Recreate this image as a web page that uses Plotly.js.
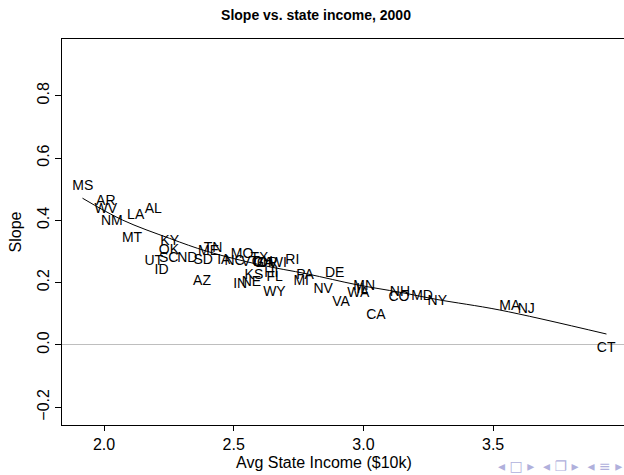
<!DOCTYPE html>
<html>
<head>
<meta charset="utf-8">
<script src="https://cdn.plot.ly/plotly-3.0.1.min.js"></script>
<style>
html, body { margin:0; padding:0; overflow:hidden; background:#fff; }
#chart { width:632px; height:475px; }
</style>
</head>
<body>
<div id="chart"></div>
<script>
// State labels and their (avg income in $10k, slope) values
const states = ["MS","AR","WV","NM","LA","AL","MT","KY","OK","UT","SC","ND","ID","SD","ME","TN","AZ","IA","NC","MO","VT","TX","OH","GA","OR","WI","RI","KS","HI","FL","IN","NE","WY","PA","MI","DE","NV","VA","WA","MN","IL","CA","NH","CO","MD","NY","MA","NJ","CT"];
const income = [1.918,2.007,2.007,2.030,2.122,2.190,2.108,2.253,2.250,2.192,2.249,2.321,2.222,2.382,2.403,2.420,2.378,2.462,2.503,2.532,2.564,2.599,2.610,2.614,2.630,2.672,2.726,2.578,2.645,2.658,2.525,2.568,2.657,2.775,2.760,2.889,2.845,2.914,2.980,3.003,2.995,3.048,3.141,3.137,3.226,3.285,3.564,3.628,3.936];
const slope = [0.510,0.459,0.435,0.395,0.415,0.436,0.343,0.333,0.304,0.269,0.278,0.278,0.238,0.270,0.300,0.311,0.205,0.270,0.268,0.291,0.266,0.276,0.266,0.260,0.263,0.262,0.270,0.222,0.228,0.217,0.193,0.202,0.167,0.222,0.203,0.228,0.177,0.135,0.165,0.186,0.177,0.093,0.167,0.152,0.155,0.139,0.122,0.113,-0.013];
// Smooth fitted curve
const fitX = [1.917, 2.071, 2.253, 2.399, 2.603, 2.783, 2.976, 3.141, 3.283, 3.526, 3.937];
const fitY = [0.471, 0.401, 0.342, 0.300, 0.257, 0.228, 0.193, 0.169, 0.146, 0.112, 0.035];
const xTicks = [2.0, 2.5, 3.0, 3.5];
const xTickText = ["2.0","2.5","3.0","3.5"];
const yTicks = [-0.2, 0.0, 0.2, 0.4, 0.6, 0.8];
const yTickText = ["\u22120.2","0.0","0.2","0.4","0.6","0.8"];

const FONT = '"Liberation Sans", Arial, Helvetica, sans-serif';

const traces = [
  {
    x: income, y: slope, text: states, mode: 'text', type: 'scatter',
    textposition: 'middle center',
    textfont: {family: FONT, size: 14, color: '#000'},
    hoverinfo: 'skip', showlegend: false
  },
  {
    x: fitX, y: fitY, mode: 'lines', type: 'scatter',
    line: {color: '#000', width: 1, shape: 'spline', smoothing: 1},
    hoverinfo: 'skip', showlegend: false
  }
];

const layout = {
  width: 632, height: 475,
  margin: {l: 62, r: 4, t: 39, b: 50, pad: 0},
  paper_bgcolor: '#fff', plot_bgcolor: '#fff',
  font: {family: FONT, color: '#000', size: 16},
  title: {
    text: '<b>Slope vs. state income, 2000</b>',
    font: {family: FONT, size: 14, color: '#000'},
    x: 316/632, xref: 'container', xanchor: 'center',
    y: 1 - 15/475, yref: 'container', yanchor: 'middle'
  },
  xaxis: {
    range: [1.838, 4.02],
    tickmode: 'array', tickvals: xTicks, ticktext: xTickText,
    ticks: 'outside', ticklen: 5, tickwidth: 1, tickcolor: '#000',
    showline: true, linecolor: '#000', linewidth: 1, mirror: true,
    showgrid: false, zeroline: false,
    tickfont: {family: FONT, size: 16, color: '#000'}
  },
  yaxis: {
    range: [-0.257, 0.982],
    tickmode: 'array', tickvals: yTicks, ticktext: yTickText,
    tickangle: -90,
    ticks: 'outside', ticklen: 6, tickwidth: 1, tickcolor: '#000',
    showline: true, linecolor: '#000', linewidth: 1, mirror: true,
    showgrid: false,
    zeroline: true, zerolinecolor: '#bebebe', zerolinewidth: 1,
    tickfont: {family: FONT, size: 16, color: '#000'},
    title: {text: 'Slope', font: {family: FONT, size: 16, color: '#000'}, standoff: 8}
  },
  annotations: [
    {
      text: 'Avg State Income ($10k)',
      xref: 'paper', yref: 'paper', x: (324 - 62) / 566, y: (425 - 463) / 386,
      xanchor: 'center', yanchor: 'middle', showarrow: false,
      font: {family: FONT, size: 16, color: '#000'}
    },
    {
      text: '\u25C2 \u25A1 \u25B8  \u25C2 \u2750 \u25B8  \u25C2 \u2261 \u25B8',
      xref: 'paper', yref: 'paper', x: (624 - 62) / 566, y: (425 - 466) / 386,
      xanchor: 'right', yanchor: 'middle', showarrow: false,
      font: {family: '"DejaVu Sans", sans-serif', size: 14, color: '#b0b0dc'}
    }
  ],
  hovermode: false,
  showlegend: false
};

Plotly.newPlot('chart', traces, layout, {displayModeBar: false, staticPlot: true});
</script>
</body>
</html>
